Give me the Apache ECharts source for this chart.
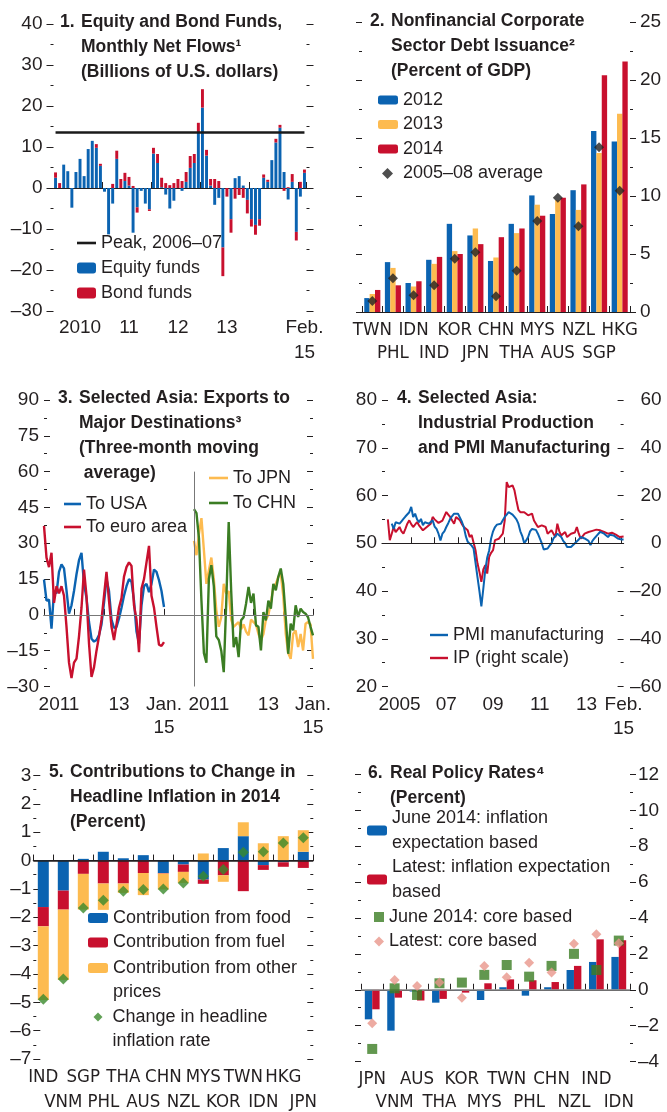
<!DOCTYPE html>
<html>
<head>
<meta charset="utf-8">
<script src="https://cdn.jsdelivr.net/npm/echarts@6/dist/echarts.min.js"></script>
<style>
  html, body { margin: 0; padding: 0; background: #fff; }
  #chart { width: 667px; height: 1112px; }
</style>
</head>
<body>
<div id="chart"></div>
<script>
// ---- data -----------------------------------------------------------------
// 1. equity and bond fund flows, Jan 2010 - Feb 2015 (billions of US$)
const equityFlows = [2.5, 0, 5.7, 4.1, -4.8, 3.9, 7.1, 2.9, 9.5, 11.5, 9.8, 5.4,
  -0.9, -11.3, -3.8, 7.1, 0, 1.7, 0.6, -10.9, -4.7, -0.7, -3.8, -5.2,
  8.4, 6.1, 0.2, -1.6, -5.0, -3.1, 0, -0.7, 1.5, 4.9, 6.1, 13.5,
  19.6, 7.9, 0.6, -4.1, -2.4, -14.5, 0, -7.6, 2.4, 2.9, 0.6, -2.9,
  -7.6, -9.0, -7.6, 2.5, 1.5, 6.8, 11.1, 14.7, 3.9, -2.8, 1.5, -10.7,
  -2.1, 3.7];
const bondFlows = [1.3, 1.2, 0, 0, 0, 0, 0, 0, 0, 0, 0.9, 0.5,
  0, 0, 1.0, 2.0, 2.2, 2.0, 2.1, 0.5, -1.3, 0, 0, -0.4,
  1.4, 2.2, 2.3, 1.2, 0.7, 1.2, 2.2, 1.7, 2.4, 2.9, 2.2, 2.4,
  4.5, 1.4, 1.6, 2.2, 1.7, -7.0, -2.1, -3.3, -2.6, -1.7, -2.4, -3.3,
  -1.8, -2.4, -1.6, 0.8, 0.5, 0, 0.9, 0.7, -0.7, 0.2, 1.9, -2.1,
  1.5, 0.8];
const peakFlow = 13.5;
const fundLabels = {'2010-07': '2010', '2011-07': '11', '2012-07': '12', '2013-07': '13', '2015-02': 'Feb.\n15'};

// 2. corporate debt issuance (percent of GDP)
const debtCountries = ['TWN', 'PHL', 'IDN', 'IND', 'KOR', 'JPN', 'CHN', 'THA', 'MYS', 'AUS', 'NZL', 'SGP', 'HKG'];
const debt2012 = [1.2, 4.3, 2.5, 4.5, 7.6, 6.6, 4.4, 7.6, 10.05, 8.45, 10.5, 15.6, 14.7];
const debt2013 = [1.55, 3.8, 2.2, 4.15, 5.25, 7.2, 4.7, 6.8, 9.25, 9.65, 8.8, 13.7, 17.1];
const debt2014 = [1.9, 2.3, 2.65, 4.75, 5.0, 5.85, 6.45, 7.2, 8.3, 9.85, 11.0, 20.4, 21.6];
const debtAvg = [0.95, 2.9, 1.45, 2.3, 4.6, 5.15, 1.35, 3.55, 7.85, 9.85, 7.4, 14.2, 10.45];

// 3. exports, three-month moving average, Jan 2011 - Jan 2015
const toUSA = [14.8, 6, 6.4, -5.8, 10, 9, 18, 21.2, 19.5, 10.3, 0.5, 4,
  10, 17, 22.9, 26, 13, 7, -3, -10, -11.2, -10.5, -8.5, -4,
  5, 15, 10, -2, -5.5, -5, -1.5, 3, 8, 12, 15, 13.8,
  6, -7, -12, 4, 12, 13, 9.5, 13, 19, 18, 14.5, 10, 3.3];
const toEuro = [37.3, 24, 20, 26, 5, 12, 9, 12, 8, -5, -20, -26.5,
  -20, -18.3, -9, 3, 19, 8, -12, -26, -22, -15, -9, -2,
  8, 18, 6, -5, -10.5, -4, 3, 7, 16, 20, 22, 20.5,
  4, -2, -15.6, 11, 15, 22, 28.9, 8, 3, -5, -12.5, -13, -11.4];
const toJPN = [31, 25, 34, 40.5, 27, 13, 18.7, 24, 15, 2, -5, -1,
  13, 8.9, 10, -2, -5, -4, -3, -6, -4, -7, -8.6, -2,
  -3, -4, -8, -10.7, -8, -2, 0, 5, 11.7, 13, 15.9, 17.3,
  8, -7.9, -16, -18.4, -8, -6.5, -13.5, -8, -14.9, -3.7, -3, -4, -18.4];
const toCHN = [44.3, 42.6, 32, 6, -16, -20, 15, 20.8, 12, -9, -10.5, -15,
  -24, 5, 38.9, 10, -13.5, -9.3, -17.7, -2.3, -1, 4.7, 11.7, 5,
  8.9, -4.4, -5, -14.9, 1.2, -2.3, 6, 2.6, 13, 10.3, 15.9, 19.4,
  13, -0.9, -16.3, -3.7, -6.5, 4, -0.9, 2.6, 1.2, 0.5, -1, -5, -8.6];
const exportLabels = {'2011-07': '2011', '2013-07': '13', '2015-01': 'Jan.\n15'};

// 4. PMI manufacturing (index) and IP (percent, right scale), Jan 2005 - Feb 2015
const pmi = [null, null, 54.1, 53, 54.4, 54.3, 54.1, 54.6, 55.1, 55.6, 56, 56.5,
  57.6, 55.5, 56.2, 55, 54.4, 55.1, 53.8, 54.4, 54.2, 54.1, 54.5, 54.8,
  53.5, 53, 52, 50.6, 52, 52.5, 53.4, 54.2, 55.1, 55.7, 56.2, 56.3,
  56.2, 55.8, 54.5, 53.4, 51.5, 50.3, 49.9, 49.5, 48.9, 48.5, 42.9, 40,
  36.8, 40.5, 44.4, 47, 48.5, 51, 52.5, 53.4, 53.9, 54.1, 54.1, 54.8,
  55.5, 56, 56.5, 56.3, 56, 55.5, 55, 54.1, 52.5, 51.5, 50, 50.6,
  51.3, 52.5, 53, 53.4, 52.8, 52, 51, 50, 48.7, 48.5, 48.9, 49.5,
  50, 51, 51.5, 52, 51.8, 51.3, 50.5, 50, 49.2, 48.9, 49.2, 49.5,
  50, 50.3, 50.8, 51.3, 51.2, 51, 50.8, 50.5, 49.6, 50.5, 51, 51.5,
  51.9, 52.4, 52.2, 52, 51.6, 51.3, 51.8, 52, 51.6, 51.3, 51, 50.9,
  50.8, 50.8];
const ip = [10, 1.3, 4, 6.8, 4.7, 5.5, 6.8, 5, 4, 6, 8.2, 9.6,
  8, 6.8, 7.5, 8.9, 7.5, 6.8, 5.4, 6, 6.8, 7.5, 8.2, 11,
  10, 9.6, 8.5, 8.2, 9.5, 10.3, 13.1, 12, 11, 9.5, 8.2, 11,
  10.5, 9.6, 8, 6.8, 6, 5.4, 2.6, 3.5, 4, -2.9, -8.4, -12,
  -16.2, -11, -9.2, -12.7, -5.7, -4, -2.9, 1.3, 1.6, 1.9, 3, 4,
  9.6, 25.6, 23.5, 23.5, 24.2, 22.1, 17.9, 14, 13, 12.4, 13, 13.75,
  11.7, 12, 12.4, 9.5, 8.2, 6.8, 7.2, 7.5, 7, 6.8, 4, 4.5,
  5.4, 4, 2.6, 8.2, 5, 3.3, 4, 4.7, 2.6, 3, 4, 3.3,
  4.5, 6.8, 4, 1.9, 3, 4, 4.7, 4.7, 4.7, 5.2, 5.4, 5.7,
  5.6, 5.4, 5, 4.7, 4.3, 4, 4.7, 4.4, 4, 3.6, 3.3, 2.6,
  3.3, 2.8];
const ipLabels = {'2005-07': '2005', '2007-07': '07', '2009-07': '09', '2011-07': '11', '2013-07': '13', '2015-02': 'Feb.\n15'};

// 5. contributions to change in headline inflation in 2014 (percent)
const inflCountries = ['IND', 'VNM', 'SGP', 'PHL', 'THA', 'AUS', 'CHN', 'NZL', 'MYS', 'KOR', 'TWN', 'IDN', 'HKG', 'JPN'];
const foodContrib = [-1.64, -1.06, 0.06, 0.31, 0.08, 0.19, -0.44, -0.14, -0.67, 0.44, 0.86, -0.16, -0.06, 0.31];
const fuelContrib = [-0.68, -0.67, -0.47, -0.81, -0.81, -0.44, -0.02, -0.26, -0.15, -0.52, -1.08, -0.17, -0.16, -0.26];
const otherContrib = [-2.6, -2.48, -1.26, -0.93, -0.33, -0.78, -0.56, -0.39, 0.25, -0.23, 0.49, 0.61, 0.86, 0.76];
const headlineChange = [-4.89, -4.18, -1.67, -1.4, -1.08, -1.02, -1.0, -0.79, -0.55, -0.32, 0.29, 0.31, 0.62, 0.8];

// 6. real policy rates (percent)
const rateCountries = ['JPN', 'VNM', 'AUS', 'THA', 'KOR', 'MYS', 'TWN', 'PHL', 'CHN', 'NZL', 'IND', 'IDN'];
const juneExpBased = [-1.65, -2.28, -0.1, -0.72, -0.03, -0.57, 0.14, -0.33, 0.14, 1.1, 1.55, 1.83];
const latestExpBased = [-1.09, -0.44, -0.6, -0.51, -0.16, 0.36, 0.58, 0.53, 0.43, 1.33, 2.81, 2.76];
const juneCoreBased = [-3.3, 0.08, -0.29, 0.36, 0.4, 0.83, 1.38, 0.73, 1.33, 2.0, 1.1, 2.74];
const latestCoreBased = [-1.87, 0.55, 0.21, 0.4, -0.44, 1.33, 0.7, 1.51, 0.96, 2.56, 3.1, 2.59];

// ---- helpers --------------------------------------------------------------
const FONT = '"Liberation Sans", Arial, Helvetica, sans-serif';
const NARROW = '"Liberation Sans Narrow", "Arial Narrow", "DejaVu Sans Condensed", sans-serif';
const INK = '#231f20';
const BLUE = '#0b63b1', RED = '#c8102e', GOLD = '#fdbb50', GREEN = '#3b7d23', DGREEN = '#3a8a2c', PINK = '#e8968b';

function monthList(year, month, n) {
  const out = [];
  for (let i = 0; i < n; i++) {
    const t = month - 1 + i;
    out.push((year + Math.floor(t / 12)) + '-' + String(t % 12 + 1).padStart(2, '0'));
  }
  return out;
}
const fundMonths = monthList(2010, 1, equityFlows.length);
const exportMonthsL = monthList(2011, 1, 61);
const exportMonthsR = monthList(2011, 1, toJPN.length);
const ipMonths = monthList(2004, 10, ip.length + 3);
const pad3 = [null, null, null];

const isJan = v => v.slice(5) === '01';
const num = v => (v < 0 ? '\u2013' + Math.abs(v) : String(v));
const twoRows = (v, i) => (i % 2 ? '\n' + v : v);

function yAx(grid, min, max, step, pos, o) {
  o = o || {};
  return {
    type: 'value', gridIndex: grid, position: pos, min: min, max: max, interval: step,
    splitLine: { show: false },
    axisLine: { show: false },
    axisTick: { show: true, inside: !!o.inside, length: o.tick || 6, lineStyle: { color: INK, width: 1 } },
    minorTick: { show: true, splitNumber: 2, length: 3, lineStyle: { color: INK, width: 1 } },
    axisLabel: { show: !!o.labels, margin: o.margin || 8, align: o.align, color: INK,
      fontFamily: FONT, fontSize: 19, formatter: num }
  };
}

function xCat(grid, data, o) {
  return {
    type: 'category', gridIndex: grid, data: data, boundaryGap: o.gap !== false,
    axisLine: { show: true, lineStyle: { color: INK, width: 1.2 } },
    axisTick: { show: true, inside: true, length: 6, interval: o.tickInt == null ? 0 : o.tickInt,
      lineStyle: { color: INK, width: 1 } },
    axisLabel: { show: true, interval: o.labInt == null ? 0 : o.labInt, formatter: o.fmt,
      margin: o.margin, color: INK, fontFamily: o.font || FONT, fontSize: o.size || 19, lineHeight: o.lh || 24 }
  };
}

function legend(names, left, top, o) {
  o = o || {};
  return {
    orient: 'vertical', left: left, top: top, padding: 0, itemGap: o.gap || 0,
    itemWidth: o.w || 20, itemHeight: o.h || 10, selectedMode: false, icon: o.icon,
    data: names, formatter: o.fmt,
    textStyle: { color: INK, fontFamily: FONT, fontSize: 18, lineHeight: o.lh || 24.5 }
  };
}

function title(text, left, top, lh) {
  return {
    text: text, left: left, top: top, padding: 0,
    textStyle: { color: INK, fontFamily: FONT, fontSize: 17.5, fontWeight: 'bold', lineHeight: lh || 25 }
  };
}

const flatLine = (color, w) => ({ silent: true, symbol: 'none', label: { show: false },
  lineStyle: { color: color, width: w, type: 'solid' }, emphasis: { disabled: true } });

// ---- chart ----------------------------------------------------------------
const chart = echarts.init(document.getElementById('chart'));

const option = {
  animation: false,
  backgroundColor: '#fff',
  textStyle: { fontFamily: FONT, color: INK },
  title: [
    title('1.', 60, 9.2), title('Equity and Bond Funds,\nMonthly Net Flows\u00b9\n(Billions of U.S. dollars)', 81, 9.2),
    title('2.', 370, 8.2), title('Nonfinancial Corporate\nSector Debt Issuance\u00b2\n(Percent of GDP)', 391, 8.2),
    title('3.', 58, 385.8), title('Selected Asia: Exports to\nMajor Destinations\u00b3\n(Three-month moving\n average)', 79, 385.8),
    title('4.', 397, 386), title('Selected Asia:\nIndustrial Production\nand PMI Manufacturing', 418, 386),
    title('5.', 49, 759.2), title('Contributions to Change in\nHeadline Inflation in 2014\n(Percent)', 70, 759.2),
    title('6.', 368, 760, 25.5), title('Real Policy Rates\u2074\n(Percent)', 390, 760, 25.5)
  ],
  legend: [
    legend(['Peak, 2006\u201307'], 77, 230.5, { w: 19, h: 2.6, lh: 25, icon: 'rect' }),
    legend(['Equity funds', 'Bond funds'], 77, 255.5, { w: 19, h: 11, lh: 25 }),
    legend(['2012', '2013', '2014'], 378, 87.75, { h: 9 }),
    legend([{ name: '2005\u201308 average', icon: 'diamond' }], 382, 161.25, { w: 11, h: 11, fmt: n => ' ' + n }),
    legend(['To USA', 'To euro area'], 64, 492.5, { w: 17, h: 2.6, lh: 23, icon: 'rect' }),
    legend(['To JPN', 'To CHN'], 209, 465.5, { w: 19, h: 2.6, lh: 25, icon: 'rect' }),
    legend(['PMI manufacturing', 'IP (right scale)'], 430, 623.5, { w: 18, h: 2.4, lh: 23, icon: 'rect' }),
    legend(['Contribution from food', 'Contribution from fuel'], 88, 905.75),
    legend(['Contribution from other\nprices'], 88, 931.25, { fmt: n => '\n' + n }),
    legend([{ name: 'Change in headline\ninflation rate', icon: 'diamond' }], 93.5, 980.25,
      { w: 9, h: 9, fmt: n => '\n' + n.split('\n').map(s => ' ' + s).join('\n') }),
    legend(['June 2014: inflation\nexpectation based', 'Latest: inflation expectation\nbased'], 367, 806),
    legend([{ name: 'June 2014: core based', icon: 'rect' }, { name: 'Latest: core based', icon: 'diamond' }], 374, 904.75, { w: 10, h: 10 })
  ],
  grid: [
    { left: 53.5, top: 24, width: 253, height: 287 },
    { left: 362, top: 22, width: 268, height: 290 },
    { left: 44, top: 400, width: 150, height: 286.5 },
    { left: 194, top: 400, width: 119, height: 286.5 },
    { left: 382, top: 400, width: 241.6, height: 286.5 },
    { left: 33.3, top: 775.5, width: 280, height: 283.5 },
    { left: 361, top: 774.5, width: 269, height: 287 }
  ].map(g => Object.assign(g, { containLabel: false, outerBoundsMode: 'none' })),
  xAxis: [
    xCat(0, fundMonths, { tickInt: (i, v) => i > 0 && isJan(v), labInt: (i, v) => v in fundLabels,
      fmt: v => fundLabels[v], margin: 5, lh: 24.5 }),
    xCat(1, debtCountries, { fmt: twoRows, margin: 6, lh: 23.5, font: NARROW, size: 18.5 }),
    xCat(2, exportMonthsL, { gap: false, tickInt: (i, v) => isJan(v), labInt: (i, v) => v in exportLabels,
      fmt: v => exportLabels[v], margin: 6.5, lh: 23 }),
    xCat(3, exportMonthsR, { gap: false, tickInt: (i, v) => isJan(v), labInt: (i, v) => v in exportLabels,
      fmt: v => exportLabels[v], margin: 6.5, lh: 23 }),
    xCat(4, ipMonths, { gap: false, tickInt: (i, v) => isJan(v) && v > '2005-06', labInt: (i, v) => v in ipLabels,
      fmt: v => ipLabels[v], margin: 6.5, lh: 24 }),
    xCat(5, inflCountries, { fmt: twoRows, margin: 5.7, lh: 25, font: NARROW, size: 18.5 }),
    xCat(6, rateCountries, { fmt: twoRows, margin: 5.5, lh: 23.5, font: NARROW, size: 18.5 })
  ],
  yAxis: [
    yAx(0, -30, 40, 10, 'left', { labels: true, tick: 7, margin: 11 }),   // 0
    yAx(0, -30, 40, 10, 'right', { tick: 7 }),                            // 1
    yAx(1, 0, 25, 5, 'right', { labels: true, margin: 10 }),              // 2
    yAx(1, 0, 25, 5, 'left'),                                             // 3
    yAx(2, -30, 90, 15, 'left', { labels: true, inside: true, margin: 5 }), // 4
    yAx(3, -30, 90, 15, 'right', { inside: true }),                       // 5
    yAx(4, 20, 80, 10, 'left', { labels: true, inside: true, margin: 5 }),// 6
    yAx(4, -60, 60, 20, 'right', { labels: true, inside: true, margin: 38, align: 'right' }), // 7
    yAx(5, -7, 3, 1, 'left', { labels: true, inside: true, tick: 7, margin: 2 }), // 8
    yAx(5, -7, 3, 1, 'right', { inside: true }),                          // 9
    yAx(6, -4, 12, 2, 'left'),                                            // 10
    yAx(6, -4, 12, 2, 'right', { labels: true, margin: 8 })               // 11
  ],
  series: [
    // panel 1
    { type: 'bar', name: 'Equity funds', xAxisIndex: 0, yAxisIndex: 0, stack: 'flows', data: equityFlows,
      barWidth: '72%', itemStyle: { color: BLUE } },
    { type: 'bar', name: 'Bond funds', xAxisIndex: 0, yAxisIndex: 0, stack: 'flows', data: bondFlows,
      itemStyle: { color: RED } },
    { type: 'line', name: 'Peak, 2006\u201307', xAxisIndex: 0, yAxisIndex: 0, data: [], symbol: 'none',
      lineStyle: { color: '#1a1a1a', width: 2.5 }, itemStyle: { color: '#1a1a1a' },
      markLine: Object.assign(flatLine('#1a1a1a', 2.5), {
        data: [[{ coord: [fundMonths[0], peakFlow] }, { coord: [fundMonths[fundMonths.length - 1], peakFlow] }]] }) },
    // panel 2
    { type: 'bar', name: '2012', xAxisIndex: 1, yAxisIndex: 2, data: debt2012, barWidth: '26%', barGap: '0%',
      itemStyle: { color: BLUE } },
    { type: 'bar', name: '2013', xAxisIndex: 1, yAxisIndex: 2, data: debt2013, barWidth: '26%', barGap: '0%',
      itemStyle: { color: GOLD } },
    { type: 'bar', name: '2014', xAxisIndex: 1, yAxisIndex: 2, data: debt2014, barWidth: '26%', barGap: '0%',
      itemStyle: { color: RED } },
    { type: 'scatter', name: '2005\u201308 average', xAxisIndex: 1, yAxisIndex: 2, data: debtAvg,
      symbol: 'diamond', symbolSize: 10, itemStyle: { color: '#222' }, z: 5 },
    // panel 3
    { type: 'line', name: 'To USA', xAxisIndex: 2, yAxisIndex: 4, data: toUSA, symbol: 'none',
      lineStyle: { color: BLUE, width: 2.4 }, itemStyle: { color: BLUE },
      markLine: Object.assign(flatLine('#777', 1), { data: [{ yAxis: 0 }] }) },
    { type: 'line', name: 'To euro area', xAxisIndex: 2, yAxisIndex: 4, data: toEuro, symbol: 'none',
      lineStyle: { color: RED, width: 2.4 }, itemStyle: { color: RED } },
    { type: 'line', name: 'To JPN', xAxisIndex: 3, yAxisIndex: 5, data: toJPN, symbol: 'none',
      lineStyle: { color: GOLD, width: 2.4 }, itemStyle: { color: GOLD },
      markLine: Object.assign(flatLine('#777', 1), { data: [{ yAxis: 0 },
        [{ coord: [exportMonthsR[0], 60] }, { coord: [exportMonthsR[0], -30] }]] }) },
    { type: 'line', name: 'To CHN', xAxisIndex: 3, yAxisIndex: 5, data: toCHN, symbol: 'none',
      lineStyle: { color: GREEN, width: 2.4 }, itemStyle: { color: GREEN } },
    // panel 4
    { type: 'line', name: 'IP (right scale)', xAxisIndex: 4, yAxisIndex: 7, data: pad3.concat(ip), symbol: 'none',
      lineStyle: { color: RED, width: 2 }, itemStyle: { color: RED } },
    { type: 'line', name: 'PMI manufacturing', xAxisIndex: 4, yAxisIndex: 6, data: pad3.concat(pmi), symbol: 'none',
      lineStyle: { color: BLUE, width: 2 }, itemStyle: { color: BLUE },
      markLine: Object.assign(flatLine(INK, 1), { data: [{ yAxis: 50 }] }) },
    // panel 5
    { type: 'bar', name: 'Contribution from food', xAxisIndex: 5, yAxisIndex: 8, stack: 'infl', data: foodContrib,
      barWidth: '55%', itemStyle: { color: BLUE } },
    { type: 'bar', name: 'Contribution from fuel', xAxisIndex: 5, yAxisIndex: 8, stack: 'infl', data: fuelContrib,
      itemStyle: { color: RED } },
    { type: 'bar', name: 'Contribution from other\nprices', xAxisIndex: 5, yAxisIndex: 8, stack: 'infl', data: otherContrib,
      itemStyle: { color: GOLD },
      markLine: Object.assign(flatLine(INK, 1.5), { data: [{ yAxis: 0 }] }) },
    { type: 'scatter', name: 'Change in headline\ninflation rate', xAxisIndex: 5, yAxisIndex: 8, data: headlineChange,
      symbol: 'diamond', symbolSize: 11, itemStyle: { color: DGREEN }, z: 5 },
    // panel 6
    { type: 'bar', name: 'June 2014: inflation\nexpectation based', xAxisIndex: 6, yAxisIndex: 11, data: juneExpBased,
      barWidth: '33%', barGap: '0%', itemStyle: { color: BLUE },
      markLine: Object.assign(flatLine('#8a8a8a', 1.5), { data: [{ yAxis: 0 }] }) },
    { type: 'bar', name: 'Latest: inflation expectation\nbased', xAxisIndex: 6, yAxisIndex: 11, data: latestExpBased,
      barWidth: '33%', barGap: '0%', itemStyle: { color: RED } },
    { type: 'scatter', name: 'June 2014: core based', xAxisIndex: 6, yAxisIndex: 11, data: juneCoreBased,
      symbol: 'rect', symbolSize: 10, itemStyle: { color: GREEN }, z: 5 },
    { type: 'scatter', name: 'Latest: core based', xAxisIndex: 6, yAxisIndex: 11, data: latestCoreBased,
      symbol: 'diamond', symbolSize: 10, itemStyle: { color: PINK }, z: 6 }
  ]
};

chart.setOption(option);
window.addEventListener('resize', () => chart.resize());
</script>
</body>
</html>
